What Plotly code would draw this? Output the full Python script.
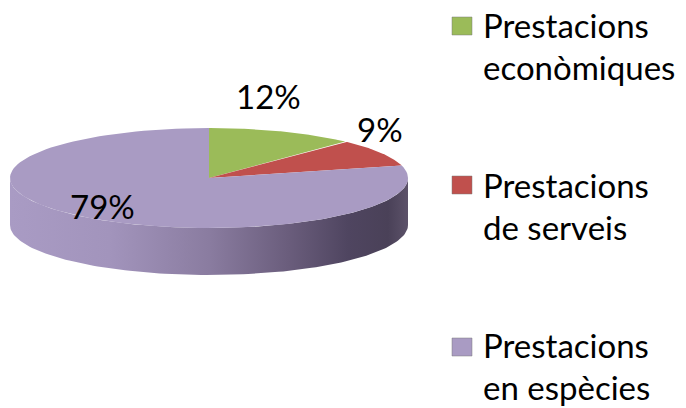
import numpy as np
import plotly.graph_objects as go

categories = ["Prestacions econòmiques", "Prestacions de serveis", "Prestacions en espècies"]
legend_lines = [["Prestacions", "econòmiques"], ["Prestacions", "de serveis"], ["Prestacions", "en espècies"]]
values = [12, 9, 79]
labels = [f"{v}%" for v in values]

top_colors = ["#9bbb59", "#c0504d", "#a99bc3"]

# geometry (pixel layout)
CX, CY, RX, RY, DEPTH = 209, 178, 199, 50, 47
label_pos = [(268, 96), (380, 129), (102, 206)]
FONT = "Lato"
FS = 33

fig = go.Figure()

def arc(a0, a1, n=120, dy=0):
    t = np.radians(np.linspace(a0, a1, n))
    return CX + RX * np.sin(t), CY - RY * np.cos(t) + dy

# side wall (visible front half: 90..270 deg clockwise from top)
xs1, ys1 = arc(90, 270)
xs2, ys2 = arc(270, 90, dy=DEPTH)
fig.add_trace(go.Scatter(
    x=np.concatenate([xs1, xs2, xs1[:1]]), y=np.concatenate([ys1, ys2, ys1[:1]]),
    mode="lines", line=dict(width=0), fill="toself",
    fillgradient=dict(type="horizontal", colorscale=[
        [0.0, "#a99bc4"], [0.25, "#a294bc"], [0.5, "#8a7ca0"], [0.7, "#6a5d7c"],
        [0.85, "#4f4560"], [0.95, "#4a4158"], [1.0, "#5c5269"]]),
    hoverinfo="skip", showlegend=False))

# top slices
total = sum(values)
start = 0.0
for name, v, col in zip(categories, values, top_colors):
    a1 = start + 360.0 * v / total
    ax, ay = arc(start, a1)
    fig.add_trace(go.Scatter(
        x=np.concatenate([[CX], ax, [CX]]), y=np.concatenate([[CY], ay, [CY]]),
        mode="lines", line=dict(width=0, color=col), fill="toself", fillcolor=col,
        name=name, showlegend=False, hoverinfo="name"))
    start = a1

# percentage labels
for (lx, ly), txt in zip(label_pos, labels):
    fig.add_annotation(x=lx, y=ly, text=txt, showarrow=False, xref="x", yref="y",
                       font=dict(family=FONT, size=FS, color="#000000"),
                       xanchor="center", yanchor="middle")

# legend (manual)
legend_text_mid = [25, 185, 345]
legend_square_top = [17, 176, 338]
LINE_GAP = 42
for (l1, l2), col, ym, ys in zip(legend_lines, top_colors, legend_text_mid, legend_square_top):
    fig.add_shape(type="rect", x0=452, x1=472, y0=ys, y1=ys + 18, xref="x", yref="y",
                  fillcolor=col, line=dict(width=0.8, color="rgba(120,120,120,0.6)"))
    fig.add_annotation(x=481, y=ym, text=l1, showarrow=False, xref="x", yref="y",
                       font=dict(family=FONT, size=FS, color="#000000"),
                       xanchor="left", yanchor="middle")
    fig.add_annotation(x=481, y=ym + LINE_GAP, text=l2, showarrow=False, xref="x", yref="y",
                       font=dict(family=FONT, size=FS, color="#000000"),
                       xanchor="left", yanchor="middle")

fig.update_layout(
    width=686, height=408, margin=dict(l=0, r=0, t=0, b=0),
    paper_bgcolor="white", plot_bgcolor="white",
    xaxis=dict(range=[0, 686], visible=False, fixedrange=True),
    yaxis=dict(range=[408, 0], visible=False, fixedrange=True),
)

fig.write_html("out.html", config={"displayModeBar": False},
               post_script="document.body.style.margin='0';")
